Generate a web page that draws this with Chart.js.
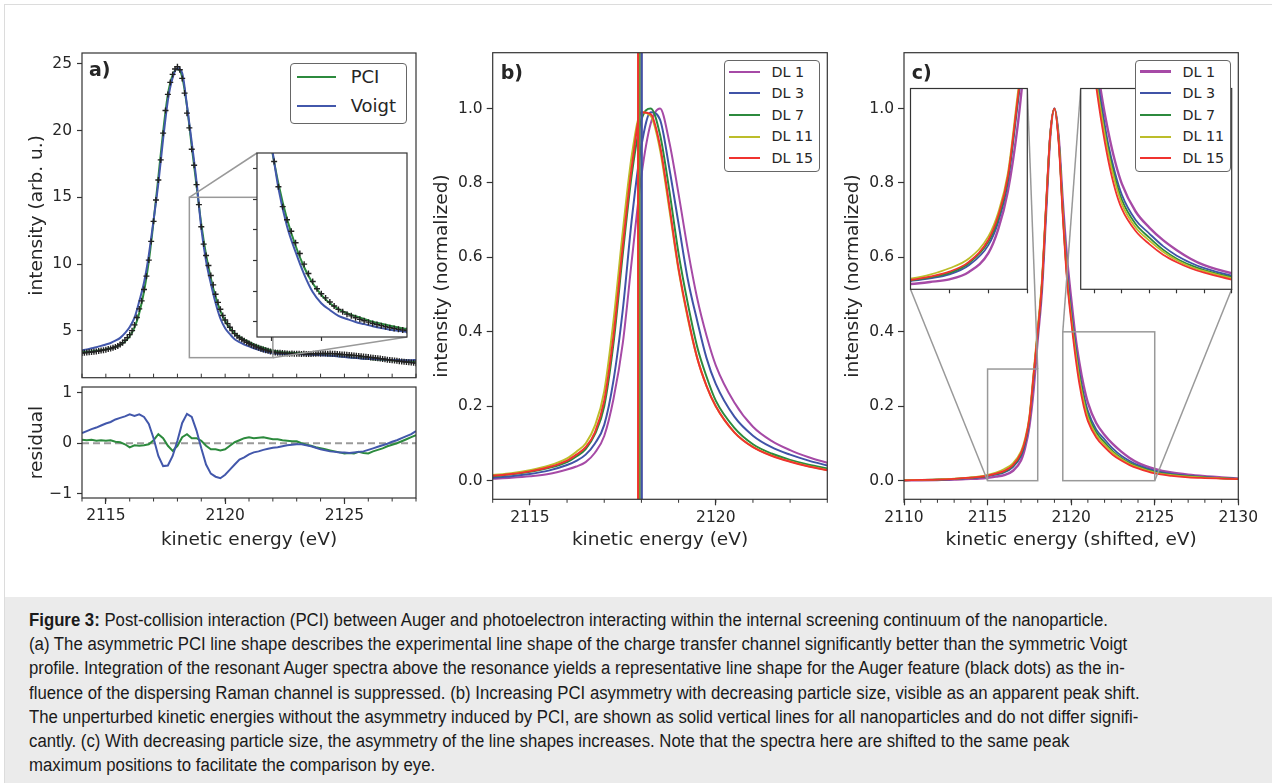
<!DOCTYPE html>
<html>
<head>
<meta charset="utf-8">
<title>Figure 3</title>
<script src="https://cdn.jsdelivr.net/npm/chart.js@4.4.1/dist/chart.umd.min.js"></script>
<style>
  html, body { margin: 0; padding: 0; }
  body { width: 1272px; height: 783px; position: relative; overflow: hidden; background: #fff;
         font-family: "DejaVu Sans", sans-serif; color: #262626; }
  .sheet { position: absolute; left: 4px; top: 4px; width: 1268px; height: 779px;
           border-left: 1px solid #dcdcdc; border-top: 1px solid #dcdcdc; }
  canvas { position: absolute; }
  .tag { position: absolute; font-weight: bold; font-size: 19px; line-height: 19px; color: #262626; }
  .legend { position: absolute; background: #fff; border: 1.3px solid #666; border-radius: 4px; box-sizing: border-box; }
  .legend .key { position: absolute; height: 0; }
  .legend .txt { position: absolute; white-space: nowrap; line-height: 1; color: #262626; }
  .caption { position: absolute; left: 5px; top: 597px; width: 1267px; height: 186px; background: #ebebeb;
             font-family: "Liberation Sans", Arial, sans-serif; font-size: 18px; color: #1a1a1a; }
  .caption div { position: absolute; left: 24px; height: 24px; line-height: 24px; white-space: nowrap; transform-origin: 0 50%; }
</style>
</head>
<body>
<div class="sheet"></div>

<div class="caption">
  <div style="top:11px" data-w="1081"><b>Figure 3:</b> Post-collision interaction (PCI) between Auger and photoelectron interacting within the internal screening continuum of the nanoparticle.</div>
  <div style="top:35px" data-w="1101">(a) The asymmetric PCI line shape describes the experimental line shape of the charge transfer channel significantly better than the symmetric Voigt</div>
  <div style="top:59px" data-w="1090">profile. Integration of the resonant Auger spectra above the resonance yields a representative line shape for the Auger feature (black dots) as the in-</div>
  <div style="top:84px" data-w="1112">fluence of the dispersing Raman channel is suppressed. (b) Increasing PCI asymmetry with decreasing particle size, visible as an apparent peak shift.</div>
  <div style="top:108px" data-w="1100">The unperturbed kinetic energies without the asymmetry induced by PCI, are shown as solid vertical lines for all nanoparticles and do not differ signifi-</div>
  <div style="top:132px" data-w="1049">cantly. (c) With decreasing particle size, the asymmetry of the line shapes increases. Note that the spectra here are shifted to the same peak</div>
  <div style="top:156px">maximum positions to facilitate the comparison by eye.</div>
</div>

<script>
// ---------- panel a: experimental Auger line (black dots) ----------
const aEnergy = [
  2114.0,2114.1,2114.2,2114.3,2114.4,2114.5,2114.6,2114.7,2114.8,2114.9,
  2115.0,2115.1,2115.2,2115.3,2115.4,2115.5,2115.6,2115.7,2115.8,2115.9,
  2116.0,2116.1,2116.2,2116.3,2116.4,2116.5,2116.6,2116.7,2116.8,2116.9,
  2117.0,2117.1,2117.2,2117.3,2117.4,2117.5,2117.6,2117.7,2117.8,2117.9,
  2118.0,2118.1,2118.2,2118.3,2118.4,2118.5,2118.6,2118.7,2118.8,2118.9,
  2119.0,2119.1,2119.2,2119.3,2119.4,2119.5,2119.6,2119.7,2119.8,2119.9,
  2120.0,2120.1,2120.2,2120.3,2120.4,2120.5,2120.6,2120.7,2120.8,2120.9,
  2121.0,2121.1,2121.2,2121.3,2121.4,2121.5,2121.6,2121.7,2121.8,2121.9,
  2122.0,2122.1,2122.2,2122.3,2122.4,2122.5,2122.6,2122.7,2122.8,2122.9,
  2123.0,2123.1,2123.2,2123.3,2123.4,2123.5,2123.6,2123.7,2123.8,2123.9,
  2124.0,2124.1,2124.2,2124.3,2124.4,2124.5,2124.6,2124.7,2124.8,2124.9,
  2125.0,2125.1,2125.2,2125.3,2125.4,2125.5,2125.6,2125.7,2125.8,2125.9,
  2126.0,2126.1,2126.2,2126.3,2126.4,2126.5,2126.6,2126.7,2126.8,2126.9,
  2127.0,2127.1,2127.2,2127.3,2127.4,2127.5,2127.6,2127.7,2127.8,2127.9,
  2128.0
];
const aCounts = [
  3.35,3.37,3.38,3.40,3.42,3.44,3.47,3.50,3.53,3.56,
  3.60,3.64,3.68,3.74,3.80,3.88,3.98,4.12,4.30,4.50,
  4.72,5.02,5.45,6.00,6.65,7.25,8.10,9.10,10.30,11.70,
  13.20,14.80,16.30,17.80,19.80,21.50,22.70,23.60,24.20,24.60,
  24.77,24.55,23.90,22.80,21.30,20.20,18.60,17.40,15.95,14.45,
  12.80,11.50,10.65,9.90,9.15,8.45,7.75,7.14,6.62,6.15,
  5.82,5.55,5.28,5.02,4.80,4.64,4.49,4.38,4.26,4.15,
  4.06,3.97,3.88,3.81,3.74,3.67,3.61,3.56,3.51,3.46,
  3.42,3.39,3.37,3.36,3.34,3.33,3.32,3.30,3.31,3.30,
  3.29,3.30,3.28,3.29,3.27,3.28,3.28,3.30,3.29,3.31,
  3.30,3.32,3.31,3.30,3.32,3.30,3.29,3.28,3.26,3.24,
  3.23,3.22,3.20,3.18,3.17,3.15,3.13,3.11,3.08,3.07,
  3.04,3.02,3.00,2.98,2.95,2.93,2.90,2.88,2.85,2.83,
  2.80,2.78,2.76,2.73,2.71,2.69,2.67,2.65,2.63,2.61,
  2.59
];

// fits and residuals share a coarser energy grid
const aFitEnergy = [
  2114.0,2114.2,2114.4,2114.6,2114.8, 2115.0,2115.2,2115.4,2115.6,2115.8,
  2116.0,2116.2,2116.4,2116.6,2116.8, 2117.0,2117.2,2117.4,2117.6,2117.8,
  2118.0,2118.2,2118.4,2118.6,2118.8, 2119.0,2119.2,2119.4,2119.6,2119.8,
  2120.0,2120.2,2120.4,2120.6,2120.8, 2121.0,2121.2,2121.4,2121.6,2121.8,
  2122.0,2122.2,2122.4,2122.6,2122.8, 2123.0,2123.2,2123.4,2123.6,2123.8,
  2124.0,2124.2,2124.4,2124.6,2124.8, 2125.0,2125.2,2125.4,2125.6,2125.8,
  2126.0,2126.2,2126.4,2126.6,2126.8, 2127.0,2127.2,2127.4,2127.6,2127.8,
  2128.0
];
const aPCI = [
  3.42,3.44,3.47,3.51,3.56, 3.62,3.70,3.80,3.95,4.20,
  4.60,5.25,6.35,7.95,10.20, 13.20,16.50,19.90,22.70,24.15,
  24.60,24.00,21.80,18.80,15.90, 13.00,10.70,8.95,7.55,6.50,
  5.75,5.20,4.82,4.55,4.35, 4.18,3.99,3.86,3.74,3.62,
  3.52,3.46,3.41,3.38,3.36, 3.34,3.32,3.30,3.28,3.25,
  3.22,3.19,3.16,3.13,3.10, 3.06,3.03,3.00,2.97,2.94,
  2.91,2.88,2.86,2.84,2.82, 2.80,2.79,2.77,2.76,2.75,
  2.74
];
const aVoigt = [
  3.55,3.62,3.70,3.78,3.88, 3.99,4.10,4.27,4.48,4.83,
  5.29,5.99,7.22,8.62,10.68, 13.30,16.05,19.35,22.26,23.95,
  24.65,24.30,21.88,19.12,16.20, 12.70,10.23,8.55,7.09,5.93,
  5.20,4.76,4.38,4.17,3.98, 3.84,3.70,3.58,3.48,3.40,
  3.33,3.29,3.28,3.28,3.28, 3.27,3.26,3.23,3.22,3.20,
  3.18,3.17,3.15,3.13,3.08, 3.05,3.01,2.99,2.96,2.92,
  2.91,2.90,2.88,2.86,2.84, 2.83,2.82,2.81,2.81,2.81,
  2.83
];
const aResPCI = [
  .07,.06,.07,.05,.06, .05,.06,.03,.02,-.02,
  -.08,-.04,-.05,-.04,-.02, .06,.18,.10,-.05,-.15,
  -.05,.12,.18,.10,.10, .05,-.05,-.12,-.12,-.14,
  -.12,-.05,.02,.06,.10, .12,.10,.11,.12,.10,
  .08,.08,.06,.05,.04, .04,.00,-.03,-.05,-.08,
  -.10,-.12,-.14,-.16,-.18, -.20,-.19,-.20,-.17,-.19,
  -.20,-.16,-.13,-.10,-.06, -.03,.00,.04,.08,.12,
  .16
];
const aResVoigt = [
  .20,.24,.28,.31,.35, .39,.42,.47,.50,.53,
  .57,.54,.57,.52,.38, .10,-.25,-.45,-.44,-.25,
  .05,.40,.58,.52,.25, -.10,-.42,-.60,-.66,-.69,
  -.62,-.52,-.42,-.32,-.28, -.22,-.18,-.16,-.13,-.11,
  -.09,-.08,-.06,-.04,-.03, -.02,-.02,-.04,-.06,-.09,
  -.12,-.14,-.16,-.17,-.18, -.18,-.19,-.18,-.17,-.16,
  -.13,-.10,-.07,-.04,-.01, .03,.06,.10,.14,.18,
  .24
];
const aXTicks = [2115, 2120, 2125];
const aYTicks = [5, 10, 15, 20, 25];
const aResTicks = [-1, 0, 1];
const aInsetYTicks = [4, 6, 8, 10, 12, 14];
const aInsetXTicks = [2118.85, 2120];

// ---------- panel b: PCI line shapes per particle size ----------
const dlLabels = ['DL 1', 'DL 3', 'DL 7', 'DL 11', 'DL 15'];
const dlColors = ['#a64aa6', '#4053a7', '#2c8a3d', '#bcbd2a', '#f0322f'];
const bEnergy = [2114,2114.5,2115,2115.5,2116, 2116.25,2116.5,2116.75,2117, 2117.25,2117.5,2117.75,2118,
                 2118.25,2118.5,2118.75,2119, 2119.25,2119.5,2119.75,2120, 2120.5,2121,2121.5,2122,2122.5,2123];
const bDL1  = [.005,.008,.012,.018,.03, .038,.05,.075,.12, .22,.37,.6,.82, .96,1.0,.91,.77, .62,.49,.39,.31, .21,.145,.107,.082,.063,.048];
const bDL3  = [.008,.012,.018,.027,.042, .053,.07,.1,.15, .27,.46,.71,.9, .99,.97,.84,.69, .54,.43,.33,.26, .172,.121,.09,.07,.054,.041];
const bDL7  = [.012,.017,.024,.034,.05, .065,.085,.125,.2, .37,.61,.83,.97, 1.0,.93,.78,.61, .475,.36,.28,.215, .142,.098,.073,.056,.043,.033];
const bDL11 = [.015,.02,.028,.04,.06, .078,.10,.148,.24, .43,.67,.88,.99, .98,.89,.73,.565, .435,.33,.255,.2, .13,.091,.068,.052,.039,.029];
const bDL15 = [.013,.018,.025,.036,.054, .07,.09,.13,.215, .39,.63,.85,.99, .985,.90,.74,.57, .44,.33,.255,.2, .13,.09,.067,.051,.038,.028];
const bUnperturbed = [2118.0, 2118.01, 2117.95, 2117.92, 2117.91];
const bXTicks = [2115, 2120];
const yNormTicks = [0, 0.2, 0.4, 0.6, 0.8, 1.0];

// ---------- panel c: same line shapes shifted to a common maximum ----------
const cEnergy = [2110,2111,2112,2113,2114, 2114.5,2115,2115.5,2116,2116.5,2117, 2117.25,2117.5,2117.75,2118,
                 2118.25,2118.5,2118.75,2119, 2119.25,2119.5,2119.75,2120, 2120.25,2120.5,2120.75,2121,
                 2121.5,2122,2122.5,2123, 2123.5,2124, 2125,2126,2127,2128,2129,2130];
const cDL1  = [.0008,.0012,.002,.003,.005, .006,.0079,.011,.0149,.026,.054, .089,.146,.243,.38, .51,.72,.925,1.0,
               .925,.75,.6,.49, .39,.315,.255,.21, .155,.123,.098,.078, .061,.048, .032,.022,.016,.012,.009,.006];
const cDL3  = [.001,.0018,.0028,.0045,.0075, .009,.0124,.0165,.0224,.036,.066, .1,.16,.275,.395, .525,.73,.93,1.0,
               .92,.73,.57,.46, .37,.29,.232,.188, .138,.111,.086,.067, .053,.042, .027,.018,.013,.01,.007,.005];
const cDL7  = [.001,.002,.003,.005,.008, .0095,.0132,.018,.0245,.039,.071, .105,.165,.28,.40, .53,.735,.93,1.0,
               .92,.72,.55,.445, .355,.28,.222,.178, .13,.103,.079,.061, .048,.038, .024,.016,.012,.009,.0065,.005];
const cDL11 = [.0012,.0022,.0035,.0055,.009, .0115,.0159,.022,.0314,.046,.079, .114,.173,.29,.41, .54,.745,.93,1.0,
               .915,.72,.55,.44, .35,.272,.214,.17, .123,.097,.075,.058, .045,.036, .022,.015,.011,.008,.006,.0045];
const cDL15 = [.001,.002,.003,.005,.008, .010,.0139,.019,.0264,.041,.074, .109,.168,.283,.40, .53,.74,.93,1.0,
               .91,.71,.54,.43, .335,.258,.2,.16, .116,.09,.069,.054, .042,.033, .0195,.013,.009,.007,.0055,.004];
const cXTicks = [2110, 2115, 2120, 2125, 2130];
const cLeftInsetTicks = [2116, 2117, 2118];
const cRightInsetTicks = [2120, 2121, 2122, 2123, 2124, 2125];

// ---------- small plugins ----------
const whiteArea = {
  id: 'whiteArea',
  beforeDatasetsDraw(chart, args, opts) {
    if (!opts.on) return;
    const a = chart.chartArea, ctx = chart.ctx;
    ctx.save();
    ctx.fillStyle = '#fff';
    ctx.fillRect(a.left, a.top, a.right - a.left, a.bottom - a.top);
    ctx.restore();
  }
};

const frame = {
  id: 'frame',
  afterDraw(chart, args, opts) {
    const a = chart.chartArea, ctx = chart.ctx;
    ctx.save();
    ctx.strokeStyle = opts.color || '#333';
    ctx.lineWidth = 1.2;
    ctx.strokeRect(a.left, a.top, a.right - a.left, a.bottom - a.top);
    ctx.restore();
  }
};

// short ticks along the bottom axis (dir 1 = outward, -1 = inward)
const minor = {
  id: 'minor',
  afterDraw(chart, args, opts) {
    if (!opts.step) return;
    const s = chart.scales.x, a = chart.chartArea, ctx = chart.ctx;
    ctx.save();
    ctx.strokeStyle = '#333';
    ctx.lineWidth = 1;
    for (let v = Math.ceil(s.min / opts.step) * opts.step; v <= s.max + 1e-9; v += opts.step) {
      const p = s.getPixelForValue(v);
      ctx.beginPath();
      ctx.moveTo(p, a.bottom);
      ctx.lineTo(p, a.bottom + opts.len * opts.dir);
      ctx.stroke();
    }
    ctx.restore();
  }
};

// zoom rectangle plus the two connector lines to the inset
const zoomBox = {
  id: 'zoomBox',
  afterDatasetsDraw(chart, args, opts) {
    if (!opts.boxes) return;
    const xs = chart.scales.x, ys = chart.scales.y, ctx = chart.ctx;
    ctx.save();
    ctx.strokeStyle = '#999';
    ctx.lineWidth = 1.5;
    opts.boxes.forEach(b => {
      const x0 = xs.getPixelForValue(b.x0), x1 = xs.getPixelForValue(b.x1);
      const y0 = ys.getPixelForValue(b.y0), y1 = ys.getPixelForValue(b.y1);
      ctx.strokeRect(x0, y1, x1 - x0, y0 - y1);
      b.links.forEach(l => {
        ctx.beginPath();
        ctx.moveTo(xs.getPixelForValue(l[0]), ys.getPixelForValue(l[1]));
        ctx.lineTo(l[2] - opts.origin[0], l[3] - opts.origin[1]);
        ctx.stroke();
      });
    });
    ctx.restore();
  }
};

// ---------- helpers ----------
function axis(min, max, ticks, o) {
  o = o || {};
  return {
    type: 'linear', min: min, max: max,
    afterBuildTicks: s => { s.ticks = ticks.map(v => ({ value: v })); },
    border: { display: false },
    grid: { drawOnChartArea: false, drawTicks: ticks.length > 0, tickLength: o.len || 6, tickColor: '#333', tickWidth: 1.2 },
    ticks: { display: !!o.fmt, autoSkip: false, maxRotation: 0, padding: o.pad || 4, color: '#262626',
             font: { family: 'DejaVu Sans', size: 15.5 }, callback: o.fmt || (() => '') },
    title: { display: !!o.title, text: o.title || '', color: '#262626',
             font: { family: 'DejaVu Sans', size: 18.5 }, padding: o.tpad || 0 }
  };
}

function series(xs, ys, color, width, order, smooth) {
  return {
    data: xs.map((x, i) => ({ x: x, y: ys[i] })),
    showLine: true, borderColor: color, borderWidth: width, pointRadius: 0,
    cubicInterpolationMode: smooth ? 'monotone' : 'default', tension: 0, order: order
  };
}

function build(box, area, datasets, xAx, yAx, plug) {
  const cv = document.createElement('canvas');
  cv.width = box.w; cv.height = box.h;
  cv.style.left = box.x + 'px'; cv.style.top = box.y + 'px';
  document.body.appendChild(cv);
  xAx.position = 'bottom';
  yAx.position = 'left';
  xAx.afterFit = s => { s.height = box.y + box.h - area.b; };
  yAx.afterFit = s => { s.width = area.l - box.x; };
  return new Chart(cv, {
    type: 'scatter',
    data: { datasets: datasets },
    options: {
      responsive: false, animation: false, events: [],
      layout: { autoPadding: false, padding: { left: 0, bottom: 0, top: area.t - box.y, right: box.x + box.w - area.r } },
      scales: { x: xAx, y: yAx },
      plugins: Object.assign({ legend: { display: false }, tooltip: { enabled: false } }, plug || {})
    },
    plugins: [whiteArea, frame, minor, zoomBox]
  });
}

function legend(x, y, w, h, items, o) {
  const box = document.createElement('div');
  box.className = 'legend';
  Object.assign(box.style, { left: x + 'px', top: y + 'px', width: w + 'px', height: h + 'px' });
  items.forEach((it, i) => {
    const cy = o.row0 + i * o.dy;
    const k = document.createElement('div');
    k.className = 'key';
    Object.assign(k.style, { left: o.kx + 'px', width: o.kw + 'px', top: (cy - it.lw / 2) + 'px',
                             borderTop: it.lw + 'px solid ' + it.color });
    const t = document.createElement('div');
    t.className = 'txt';
    t.textContent = it.label;
    Object.assign(t.style, { left: o.tx + 'px', top: (cy - o.fs / 2) + 'px', fontSize: o.fs + 'px' });
    box.append(k, t);
  });
  document.body.appendChild(box);
}

function tag(text, x, y) {
  const d = document.createElement('div');
  d.className = 'tag';
  d.textContent = text;
  d.style.left = x + 'px';
  d.style.top = y + 'px';
  document.body.appendChild(d);
}

Chart.defaults.font.family = 'DejaVu Sans';

const pciGreen = '#2c8a3d', voigtBlue = '#4257ab', dotColor = '#222';
const minus = v => (v < 0 ? '\u2212' + Math.abs(v) : String(v));

function aSets(w) {
  return [
    { data: aEnergy.map((x, i) => ({ x: x, y: aCounts[i] })), showLine: false, pointStyle: 'cross',
      pointRadius: 3, pointBorderWidth: 1.4, pointBorderColor: dotColor, order: 0 },
    series(aFitEnergy, aVoigt, voigtBlue, w, 1, true),
    series(aFitEnergy, aPCI, pciGreen, w, 2, true)
  ];
}

// ---------- panel a ----------
const aInsetArea = { l: 257, t: 153, r: 407, b: 337 };
build({ x: 0, y: 30, w: 430, h: 362 }, { l: 82, t: 53, r: 416, b: 387 },
  aSets(2),
  axis(2114, 2128, []),
  axis(1.5, 25.8, aYTicks, { fmt: v => String(v), len: 5, pad: 5, title: 'intensity (arb. u.)', tpad: { top: 25.9, bottom: 0 } }),
  { minor: { step: 1, len: 4, dir: -1 },
    zoomBox: { origin: [0, 30], boxes: [{ x0: 2118.5, x1: 2122, y0: 3, y1: 15,
      links: [[2118.5, 15, aInsetArea.l, aInsetArea.t], [2122, 3, aInsetArea.r, aInsetArea.b]] }] } });

build({ x: 0, y: 370, w: 430, h: 190 }, { l: 82, t: 387, r: 416, b: 498 },
  [
    series(aFitEnergy, aResVoigt, voigtBlue, 2, 1, false),
    series(aFitEnergy, aResPCI, pciGreen, 2, 2, false),
    { data: [{ x: 2114, y: 0 }, { x: 2128, y: 0 }], showLine: true, borderColor: '#9a9a9a', borderWidth: 2,
      borderDash: [7, 4], pointRadius: 0, order: 3 }
  ],
  axis(2114, 2128, aXTicks, { fmt: v => String(v), len: 6, pad: 3, title: 'kinetic energy (eV)', tpad: { top: 0, bottom: 8.9 } }),
  axis(-1.08, 1.11, aResTicks, { fmt: minus, len: 5, pad: 5, title: 'residual', tpad: { top: 25.9, bottom: 0 } }),
  { minor: { step: 1, len: 3.5, dir: 1 } });

build({ x: 245, y: 141, w: 174, h: 208 }, aInsetArea,
  aSets(2),
  axis(2118.5, 2122, aInsetXTicks, { len: 4 }),
  axis(3, 15, aInsetYTicks, { len: 4 }),
  { whiteArea: { on: true } });

// ---------- panel b ----------
const bSets = [bDL1, bDL3, bDL7, bDL11, bDL15].map((ys, i) => series(bEnergy, ys, dlColors[i], 2, 10 - i, true));
bUnperturbed.forEach((e, i) => {
  bSets.push({ data: [{ x: e, y: -0.05 }, { x: e, y: 1.15 }], showLine: true, borderColor: dlColors[i],
               borderWidth: 2, pointRadius: 0, order: 5 - i });
});
build({ x: 420, y: 30, w: 420, h: 530 }, { l: 492.7, t: 52.7, r: 827.3, b: 499.3 },
  bSets,
  axis(2114, 2123, bXTicks, { fmt: v => String(v), len: 6, pad: 3, title: 'kinetic energy (eV)', tpad: { top: 0, bottom: 8.9 } }),
  axis(-0.05, 1.15, yNormTicks, { fmt: v => v.toFixed(1), len: 6, pad: 4, title: 'intensity (normalized)', tpad: { top: 10.6, bottom: 0 } }),
  { minor: { step: 1, len: 3.5, dir: 1 } });

// ---------- panel c ----------
const cLeftArea = { l: 910.5, t: 88.5, r: 1027.3, b: 289.3 };
const cRightArea = { l: 1080.7, t: 88.5, r: 1231.7, b: 289.3 };
function cSets() {
  return [cDL1, cDL3, cDL7, cDL11, cDL15].map((ys, i) => series(cEnergy, ys, dlColors[i], i === 0 ? 2.4 : 1.8, 10 - i, true));
}
build({ x: 840, y: 30, w: 432, h: 530 }, { l: 904, t: 52.7, r: 1238.3, b: 499.3 },
  cSets(),
  axis(2110, 2130, cXTicks, { fmt: v => String(v), len: 6, pad: 3, title: 'kinetic energy (shifted, eV)', tpad: { top: 0, bottom: 8.9 } }),
  axis(-0.05, 1.15, yNormTicks, { fmt: v => v.toFixed(1), len: 6, pad: 4, title: 'intensity (normalized)', tpad: { top: 1.6, bottom: 0 } }),
  { minor: { step: 1, len: 3.5, dir: 1 },
    zoomBox: { origin: [840, 30], boxes: [
      { x0: 2115, x1: 2118, y0: 0, y1: 0.3,
        links: [[2118, 0.3, cLeftArea.r, cLeftArea.t], [2115, 0, cLeftArea.l, cLeftArea.b]] },
      { x0: 2119.5, x1: 2125, y0: 0, y1: 0.4,
        links: [[2119.5, 0.4, cRightArea.l, cRightArea.t], [2125, 0, cRightArea.r, cRightArea.b]] }
    ] } });

build({ x: 898, y: 76, w: 142, h: 226 }, cLeftArea,
  cSets(),
  axis(2115, 2118, cLeftInsetTicks, { len: 4 }),
  axis(0, 0.3, []),
  { whiteArea: { on: true } });

build({ x: 1068, y: 76, w: 176, h: 226 }, cRightArea,
  cSets(),
  axis(2119.5, 2125, cRightInsetTicks, { len: 4 }),
  axis(0, 0.4, []),
  { whiteArea: { on: true } });

// ---------- labels and legends ----------
tag('a)', 89, 59.7);
tag('b)', 500.7, 62.5);
tag('c)', 911.7, 62.5);

legend(290, 62.7, 117, 61.3,
  [{ label: 'PCI', color: pciGreen, lw: 2 }, { label: 'Voigt', color: voigtBlue, lw: 2 }],
  { kx: 5.7, kw: 39, tx: 59.7, row0: 13.7, dy: 28.3, fs: 18 });

legend(724, 60, 96, 112,
  dlLabels.map((l, i) => ({ label: l, color: dlColors[i], lw: 2 })),
  { kx: 4, kw: 30.7, tx: 46.4, row0: 10.7, dy: 21.6, fs: 14.3 });

legend(1135.3, 60, 95.4, 112,
  dlLabels.map((l, i) => ({ label: l, color: dlColors[i], lw: i === 0 ? 3 : 2 })),
  { kx: 4.1, kw: 31, tx: 46.1, row0: 10.7, dy: 21.6, fs: 14.3 });

// the printed caption uses a narrower face: squeeze all lines by one common factor
const capLines = Array.from(document.querySelectorAll('.caption div'));
let want = 0, have = 0;
capLines.forEach(d => {
  if (d.dataset.w) { want += +d.dataset.w; have += d.getBoundingClientRect().width; }
});
const squeeze = (want / have).toFixed(4);
capLines.forEach(d => { d.style.transform = 'scaleX(' + squeeze + ')'; });
</script>
</body>
</html>
